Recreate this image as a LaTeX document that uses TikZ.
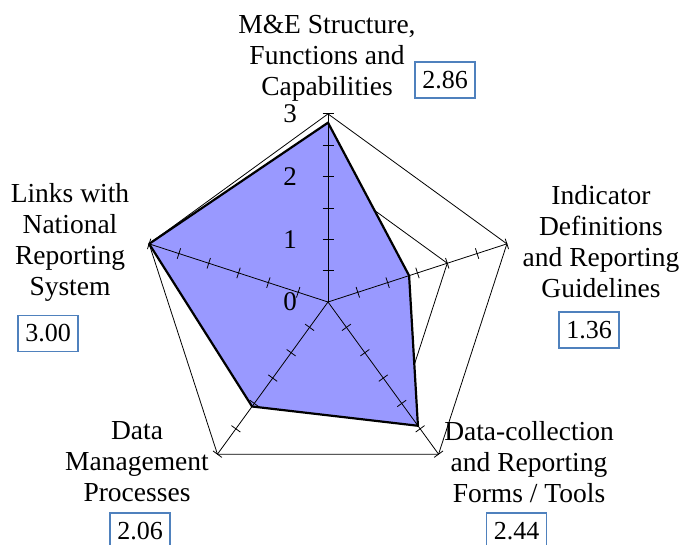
\documentclass[tikz,border=0pt]{standalone}
\usepackage{fontspec}
\setmainfont{Liberation Serif}
\usetikzlibrary{calc}
\definecolor{serfill}{RGB}{153,153,255}
\definecolor{boxblue}{RGB}{79,129,189}
\begin{document}
\begin{tikzpicture}[x=1pt,y=1pt,
  grid/.style={black, line width=0.8pt},
  spoke/.style={black, line width=0.8pt},
  series/.style={draw=black, line width=2.2pt, line join=round},
  cat/.style={font=\fontsize{27.5}{31}\selectfont, align=center, inner sep=0pt},
  valbox/.style={draw=boxblue, line width=1.3pt, fill=white, minimum width=60pt, minimum height=36pt, inner sep=0pt, font=\fontsize{26}{28}\selectfont},
  ticklab/.style={font=\fontsize{27}{30}\selectfont, inner sep=0pt}]
\useasboundingbox (0,0) rectangle (686,545);
\coordinate (c) at (328,243);
\def\un{62.7}
% grid coordinates
\foreach \a [count=\i] in {90,18,-54,-126,162} {
  \foreach \l in {1,2,3} {
    \coordinate (p\i-\l) at ($(c)+(\a:{\l*\un})$);
  }
}
% grid pentagons
\foreach \l in {1,2,3} {
  \draw[grid] (p1-\l) -- (p2-\l) -- (p3-\l) -- (p4-\l) -- (p5-\l) -- cycle;
}
% data points
\foreach \a/\v [count=\i] in {90/2.86,18/1.36,-54/2.44,-126/2.06,162/3.00} {
  \coordinate (d\i) at ($(c)+(\a:{\v*\un})$);
}
\fill[serfill] (d1) -- (d2) -- (d3) -- (d4) -- (d5) -- cycle;
% spokes and ticks
\foreach \a [count=\i] in {90,18,-54,-126,162} {
  \draw[spoke] (c) -- (p\i-3);
  \pgfmathsetmacro{\ap}{\a+90}
  \pgfmathsetmacro{\am}{\a-90}
  \foreach \v in {0.5,1,1.5,2,2.5,3} {
    \draw[spoke] ($(c)+(\a:{\v*\un})+(\ap:5.5)$) -- ($(c)+(\a:{\v*\un})+(\am:5.5)$);
  }
}
\draw[series] (d1) -- (d2) -- (d3) -- (d4) -- (d5) -- cycle;
% tick labels
\foreach \v in {0,1,2,3} {
  \node[ticklab] (t\v) at ($(c)+(-38,{\v*\un})$) {\v};
}
% category labels
\node[cat] (catA) at (327,487) {M\&E Structure,\\Functions and\\Capabilities};
\node[cat] (catB) at (601,303) {Indicator\\Definitions\\and Reporting\\Guidelines};
\node[cat] (catC) at (529,83) {Data-collection\\and Reporting\\Forms / Tools};
\node[cat] (catD) at (137,83) {Data\\Management\\Processes};
\node[cat] (catE) at (70,303) {Links with\\National\\Reporting\\System};
% value boxes
\node[valbox] (vA) at (445,465) {2.86};
\node[valbox] (vB) at (589,215) {1.36};
\node[valbox] (vC) at (516.5,14) {2.44};
\node[valbox] (vD) at (140,14) {2.06};
\node[valbox] (vE) at (48,211.5) {3.00};
\end{tikzpicture}
\end{document}
